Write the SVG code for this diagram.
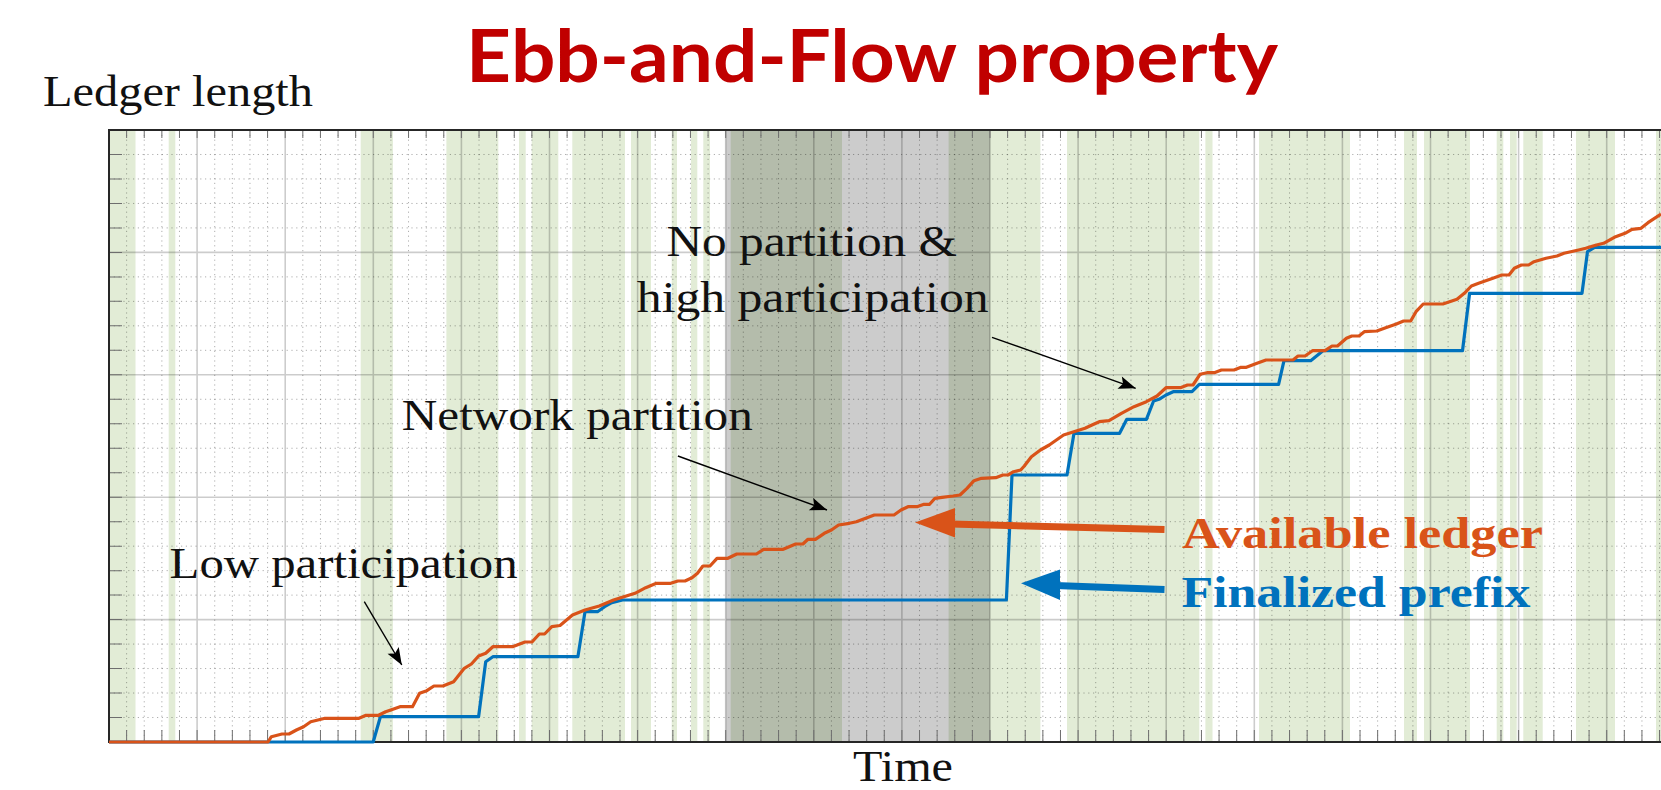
<svg xmlns="http://www.w3.org/2000/svg" width="1661" height="790" viewBox="0 0 1661 790">
  <style>
    .band { fill: #e2ecd6; }
    .minor { fill: none; stroke: #000; stroke-opacity: 0.32; stroke-width: 1; stroke-dasharray: 1.2 3.6; }
    .major { fill: none; stroke: #000; stroke-opacity: 0.2; stroke-width: 1.6; }
    .tick { fill: none; stroke: #6e6e6e; }
    .frame { fill: none; stroke: #262626; stroke-width: 2; }
    .curve { fill: none; stroke-width: 3.2; stroke-linejoin: round; stroke-linecap: butt; }
    .note { font-family: "Liberation Serif", "DejaVu Serif", serif; font-size: 44px; fill: #111; }
    .legend { font-family: "Liberation Serif", "DejaVu Serif", serif; font-size: 44px; font-weight: bold; }
    .pointer { fill: none; stroke: #000; stroke-width: 1.4; }
  </style>
  <defs>
    <marker id="tip" markerUnits="userSpaceOnUse" viewBox="-18 -8 20 16" refX="0" refY="0" markerWidth="20" markerHeight="16" orient="auto">
      <path d="M0,0 L-17,-6.5 L-13.5,0 L-17,6.5 Z" fill="#000"/>
    </marker>
  </defs>

  <rect width="1661" height="790" fill="#fff"/>

  <!-- high-participation intervals -->
  <g id="bands">
    <rect class="band" x="109" y="130" width="26.5" height="612"/>
    <rect class="band" x="168.7" y="130" width="6.6" height="612"/>
    <rect class="band" x="360.7" y="130" width="32.2" height="612"/>
    <rect class="band" x="446.4" y="130" width="51.9" height="612"/>
    <rect class="band" x="519" y="130" width="6.7" height="612"/>
    <rect class="band" x="531.7" y="130" width="26.6" height="612"/>
    <rect class="band" x="572.3" y="130" width="52.7" height="612"/>
    <rect class="band" x="631" y="130" width="20" height="612"/>
    <rect class="band" x="671.7" y="130" width="5.3" height="612"/>
    <rect class="band" x="691" y="130" width="6.3" height="612"/>
    <rect class="band" x="703.3" y="130" width="6.7" height="612"/>
    <rect class="band" x="730.7" y="130" width="111.3" height="612"/>
    <rect class="band" x="948.6" y="130" width="91.8" height="612"/>
    <rect class="band" x="1067" y="130" width="132.3" height="612"/>
    <rect class="band" x="1205.4" y="130" width="7.1" height="612"/>
    <rect class="band" x="1259" y="130" width="91" height="612"/>
    <rect class="band" x="1404" y="130" width="13" height="612"/>
    <rect class="band" x="1424" y="130" width="46" height="612"/>
    <rect class="band" x="1496.7" y="130" width="6.6" height="612"/>
    <rect class="band" x="1510" y="130" width="6.7" height="612"/>
    <rect class="band" x="1523.3" y="130" width="19.4" height="612"/>
    <rect class="band" x="1576" y="130" width="39" height="612"/>
    <rect class="band" x="1656" y="130" width="5" height="612"/>
  </g>

  <!-- network partition interval -->
  <g id="partition">
    <rect x="725.7" y="130" width="264.3" height="612" fill="#000" fill-opacity="0.2"/>
  </g>

  <g id="grid">
    <path class="minor" d="M126.62,130V742M144.24,130V742M161.86,130V742M179.48,130V742M214.72,130V742M232.34,130V742M249.96,130V742M267.58,130V742M302.82,130V742M320.44,130V742M338.06,130V742M355.68,130V742M390.92,130V742M408.54,130V742M426.16,130V742M443.78,130V742M479.02,130V742M496.64,130V742M514.26,130V742M531.88,130V742M567.12,130V742M584.74,130V742M602.36,130V742M619.98,130V742M655.22,130V742M672.84,130V742M690.46,130V742M708.08,130V742M743.32,130V742M760.94,130V742M778.56,130V742M796.18,130V742M831.42,130V742M849.04,130V742M866.66,130V742M884.28,130V742M919.52,130V742M937.14,130V742M954.76,130V742M972.38,130V742M1007.62,130V742M1025.24,130V742M1042.86,130V742M1060.48,130V742M1095.72,130V742M1113.34,130V742M1130.96,130V742M1148.58,130V742M1183.82,130V742M1201.44,130V742M1219.06,130V742M1236.68,130V742M1271.92,130V742M1289.54,130V742M1307.16,130V742M1324.78,130V742M1360.02,130V742M1377.64,130V742M1395.26,130V742M1412.88,130V742M1448.12,130V742M1465.74,130V742M1483.36,130V742M1500.98,130V742M1536.22,130V742M1553.84,130V742M1571.46,130V742M1589.08,130V742M1624.32,130V742M1641.94,130V742M1659.56,130V742"/>
    <path class="minor" d="M109,154.48H1661M109,178.96H1661M109,203.44H1661M109,227.92H1661M109,276.88H1661M109,301.36H1661M109,325.84H1661M109,350.32H1661M109,399.28H1661M109,423.76H1661M109,448.24H1661M109,472.72H1661M109,521.68H1661M109,546.16H1661M109,570.64H1661M109,595.12H1661M109,644.08H1661M109,668.56H1661M109,693.04H1661M109,717.52H1661"/>
    <path class="major" d="M197.1,130V742M285.2,130V742M373.3,130V742M461.4,130V742M549.5,130V742M637.6,130V742M725.7,130V742M813.8,130V742M901.9,130V742M990,130V742M1078.1,130V742M1166.2,130V742M1254.3,130V742M1342.4,130V742M1430.5,130V742M1518.6,130V742M1606.7,130V742M109,252.4H1661M109,374.8H1661M109,497.2H1661M109,619.6H1661"/>
  </g>

  <g id="axes">
    <!-- tick rows drawn as dashed strokes, one dash per tick -->
    <line class="tick" x1="108.5" y1="134" x2="1661" y2="134" stroke-width="8" stroke-dasharray="1 16.62"/>
    <line class="tick" x1="108.5" y1="736" x2="1661" y2="736" stroke-width="12" stroke-dasharray="1 16.62"/>
    <line class="tick" x1="115.5" y1="129.5" x2="115.5" y2="742" stroke-width="13" stroke-dasharray="1 23.48"/>
    <path class="frame" d="M1661,130H109V742H1661"/>
  </g>

  <g id="series">
    <polyline id="finalized" class="curve" stroke="#0072BD" points="109,742 373.2,742 380.4,716.7 478.6,716.7 485.7,661.7 492.9,656.7 577.9,656.7 585,611.7 597.5,611.7 604.6,606.7 611.8,602.7 622.5,600 1006.4,600 1012,475 1067,475 1074,433.3 1119.6,433.3 1126.8,419.3 1146.4,419.3 1153.6,401 1159,399.3 1166,395 1173.2,391.7 1192,391.7 1199.3,384.3 1278.6,384.3 1284,360.7 1310.7,360.7 1323,350.7 1462.5,350.7 1469.6,293.3 1582,293.3 1587.5,251.7 1594.6,247.3 1661,247.3"/>
    <polyline id="available" class="curve" stroke="#D95319" points="109,742 268,742 271.4,736.7 282,734 289,734 296.4,730 303.6,726.7 310.7,721.7 317.9,720 325,718.3 359,718.3 366,715.3 378.6,715.3 385.7,711.7 392.9,709.3 400,706.7 412.5,706.7 419.6,693.3 426.8,690.7 433.9,686 442.9,686 453.6,681.7 464.3,668.3 471.4,664 478.6,656 485.7,653.3 492.9,646.7 512.5,646.7 525,642 532,642 539.3,634 544.6,634 551.8,626.7 560,625.5 572.5,615 585,610 599.3,606 613.6,600 620.7,597.7 635,593.3 645.7,587.7 656.4,583.3 670.7,583.3 677.9,581 685,581 692,577.7 697.5,573.3 702.9,566 710,566 717,558.3 727.9,558.3 736.8,554 756.4,554 763.6,549.3 783.2,549.3 795.7,544 802.9,544 808,539.3 815.4,539.3 824.3,533.3 831.4,530 838.6,525 849.3,523.3 856.4,521.7 867,517.7 874.3,515 894,515 901,510 908,506.7 917,506.7 924,504.3 929.6,504.3 935,498.3 942,497.3 953,496 960,495 967,488.3 974,480.7 981.4,478.3 995.7,477.7 1002.9,475 1008,475 1013.6,471.7 1020.7,470 1024.3,466 1031.4,456.7 1040.4,450 1049.3,445 1056.4,440 1063.6,435 1070.7,432.7 1085,428.3 1092,425 1099.3,421.7 1109,420.7 1121.4,413.3 1134,406.7 1146.4,401.7 1157,396 1166,387.7 1180.4,387.7 1187.5,385 1193,385 1200,374.3 1207,372.7 1214.3,372.7 1221.4,370 1234,370 1241,367.3 1246.4,367.3 1257,363.3 1266,360 1293,360 1298,356 1305,356 1312.5,350.7 1325,350.7 1332,346 1337.5,346 1346.4,338.3 1351.8,336 1359,336 1364.3,331.7 1376.8,331 1385.7,327.7 1396.4,324 1403.6,321 1410.7,321 1416,311.7 1423.2,304 1442.9,304 1457,299.3 1464.3,293.3 1471.4,286 1478.6,283.3 1492.9,278.3 1501.8,275 1509,275 1514.3,268.3 1521.4,265 1528.6,265 1534,261.7 1546,258.3 1557,256 1564,253.3 1578.6,250 1585.7,248.3 1596.4,245 1603.6,243.3 1614.3,237.3 1625,233.3 1632,229.3 1641,228.3 1648,222.7 1661,214"/>
  </g>

  <g id="title">
    <text x="466" y="82" font-family="Lato, 'Open Sans', sans-serif" font-weight="700" font-size="73" fill="#C00000" textLength="812" lengthAdjust="spacingAndGlyphs">Ebb-and-Flow property</text>
  </g>

  <g id="axis-labels">
    <text class="note" x="43" y="106" textLength="270" lengthAdjust="spacingAndGlyphs">Ledger length</text>
    <text class="note" x="853" y="781" font-size="40" textLength="100" lengthAdjust="spacingAndGlyphs">Time</text>
  </g>

  <g id="label-low">
    <text class="note" x="169.6" y="578" textLength="348" lengthAdjust="spacingAndGlyphs">Low participation</text>
  </g>
  <g id="label-partition">
    <text class="note" x="401.8" y="430" textLength="351" lengthAdjust="spacingAndGlyphs">Network partition</text>
  </g>
  <g id="label-high">
    <text class="note" x="666.4" y="256" textLength="290.6" lengthAdjust="spacingAndGlyphs">No partition &amp;</text>
    <text class="note" x="636.8" y="311.7" textLength="351.8" lengthAdjust="spacingAndGlyphs">high participation</text>
  </g>

  <g id="legend">
    <text class="legend" x="1182" y="548.3" fill="#D95319" textLength="361" lengthAdjust="spacingAndGlyphs">Available ledger</text>
    <text class="legend" x="1181.4" y="607.3" fill="#0072BD" textLength="349" lengthAdjust="spacingAndGlyphs">Finalized prefix</text>
  </g>

  <g id="connectors">
    <path class="pointer" d="M364.3,601.7 L401.8,665" marker-end="url(#tip)"/>
    <path class="pointer" d="M677.9,456 L827,510" marker-end="url(#tip)"/>
    <path class="pointer" d="M992,337.3 L1135.7,388.3" marker-end="url(#tip)"/>
    <path d="M1164.5,529.5 L950,524" stroke="#D95319" stroke-width="7" fill="none"/>
    <path d="M915,522.5 L955,508 L955,537.5 Z" fill="#D95319"/>
    <path d="M1164.5,589.5 L1055,585.5" stroke="#0072BD" stroke-width="7" fill="none"/>
    <path d="M1021,583.3 L1060,569.5 L1060,600 Z" fill="#0072BD"/>
  </g>
</svg>
